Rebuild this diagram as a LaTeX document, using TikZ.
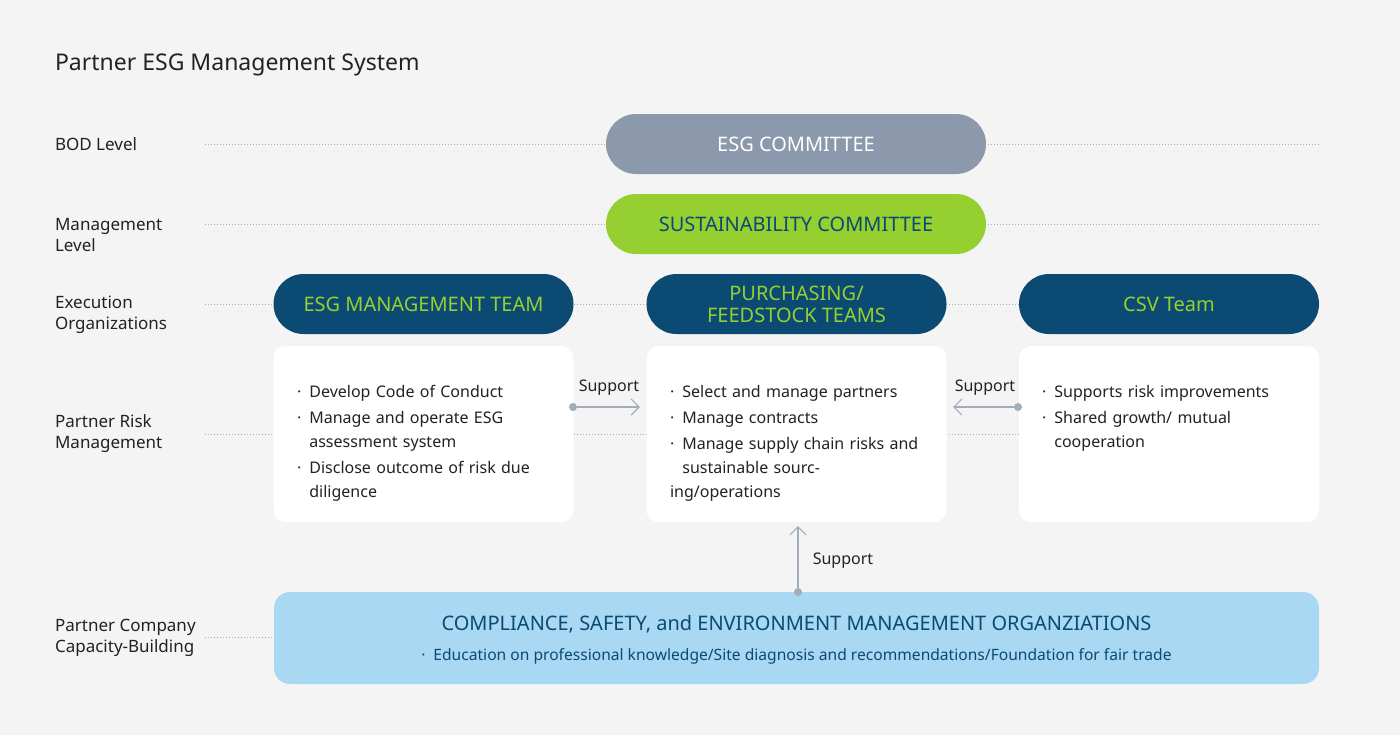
\documentclass[tikz,border=0pt]{standalone}
\usepackage{fontspec}
\setmainfont{Noto Sans}
\usetikzlibrary{positioning,arrows.meta}
\definecolor{bgc}{HTML}{F4F4F4}
\definecolor{greyc}{HTML}{8C98AB}
\definecolor{limec}{HTML}{95D030}
\definecolor{navyc}{HTML}{0B4A73}
\definecolor{skyc}{HTML}{A8D8F2}
\definecolor{textc}{HTML}{222222}
\definecolor{linec}{HTML}{A3ACB9}
\tikzset{
  lvl/.style={anchor=west, align=left, font=\fontsize{8.5}{10.5}\selectfont\bfseries, text=textc},
  pill/.style={rounded corners=15pt, minimum width=190pt, minimum height=30pt, inner sep=0pt, font=\fontsize{10}{11}\selectfont\bfseries, align=center},
  card/.style={fill=white, rounded corners=6pt, minimum width=150pt, minimum height=88pt},
  item/.style={anchor=north west, align=left, text width=125pt, font=\fontsize{8}{12}\selectfont, text=textc},
  dotline/.style={linec, densely dotted, line width=0.5pt},
  sup/.style={linec, line width=0.6pt, -{Straight Barb[length=4pt]}},
  dot/.style={circle, fill=linec, inner sep=0pt, minimum size=4pt},
  lbl/.style={font=\fontsize{8}{10}\selectfont, text=textc}
}
\begin{document}
\begin{tikzpicture}[x=0.5pt, y=-0.5pt]
  \fill[bgc] (0,0) rectangle (1400,735);
  \useasboundingbox (0,0) rectangle (1400,735);
  \node[lvl, font=\fontsize{11.5}{13}\selectfont\bfseries] (title) at (48,65) {Partner ESG Management System};
%
  \node[lvl] (bod) at (48,144) {BOD Level};
  \node[lvl] (mgmt) at (48,235) {Management\\Level};
  \node[lvl] (exec) at (48,315) {Execution\\Organizations};
  \node[lvl] (risk) at (48,434) {Partner Risk\\Management};
  \node[lvl] (cap) at (48,638) {Partner Company\\Capacity-Building};
%
  \draw[dotline] (205,144) -- (1320,144);
  \draw[dotline] (205,224) -- (1320,224);
  \draw[dotline] (205,304) -- (1320,304);
  \draw[dotline] (205,434) -- (1320,434);
  \draw[dotline] (205,637) -- (275,637);
%
  \node[pill, fill=greyc, text=white] (esgc) at (796,144) {ESG COMMITTEE};
  \node[pill, fill=limec, text=navyc] (susc) at (796,224) {SUSTAINABILITY COMMITTEE};
  \node[pill, minimum width=150pt, fill=navyc, text=limec] (esgt) at (423.5,304) {ESG MANAGEMENT TEAM};
  \node[pill, minimum width=150pt, fill=navyc, text=limec] (purt) at (796.5,304) {PURCHASING/\\FEEDSTOCK TEAMS};
  \node[pill, minimum width=150pt, fill=navyc, text=limec] (csvt) at (1169,304) {CSV Team};
%
  \node[card] (esgb) at (423.5,434) {};
  \node[card] (purb) at (796.5,434) {};
  \node[card] (csvb) at (1169,434) {};
  \node[item] at (290,378) {·\enspace Develop Code of Conduct\\[1pt]
    ·\enspace Manage and operate ESG\\\hphantom{·\enspace}assessment system\\[1pt]
    ·\enspace Disclose outcome of risk due\\\hphantom{·\enspace}diligence};
  \node[item] at (663,378) {·\enspace Select and manage partners\\[1pt]
    ·\enspace Manage contracts\\[1pt]
    ·\enspace Manage supply chain risks and\\\hphantom{·\enspace}sustainable sourcing/operations};
  \node[item] at (1035,378) {·\enspace Supports risk improvements\\[1pt]
    ·\enspace Shared growth/ mutual\\\hphantom{·\enspace}cooperation};
%
  \node[fill=skyc, rounded corners=8pt, minimum width=522.5pt, minimum height=46pt] (comp) at (796.5,638) {};
  \node[font=\fontsize{10}{11}\selectfont\bfseries, text=navyc] (compt) at (796.5,624) {COMPLIANCE, SAFETY, and ENVIRONMENT MANAGEMENT ORGANZIATIONS};
  \node[font=\fontsize{7.8}{9}\selectfont\bfseries, text=navyc] (compd) at (796.5,656) {·\enspace Education on professional knowledge/Site diagnosis and recommendations/Foundation for fair trade};
%
  \node[dot] (d1) at (573,407) {};
  \coordinate (a1) at (640,407);
  \draw[sup] (d1) -- (a1);
  \node[lbl] at (609,388) {Support};
  \node[dot] (d2) at (1018,407) {};
  \coordinate (a2) at (953,407);
  \draw[sup] (d2) -- (a2);
  \node[lbl] at (985,388) {Support};
  \node[dot] (d3) at (798,592) {};
  \coordinate (a3) at (798,526);
  \draw[sup] (d3) -- (a3);
  \node[lbl] at (843,561) {Support};
\end{tikzpicture}
\end{document}
